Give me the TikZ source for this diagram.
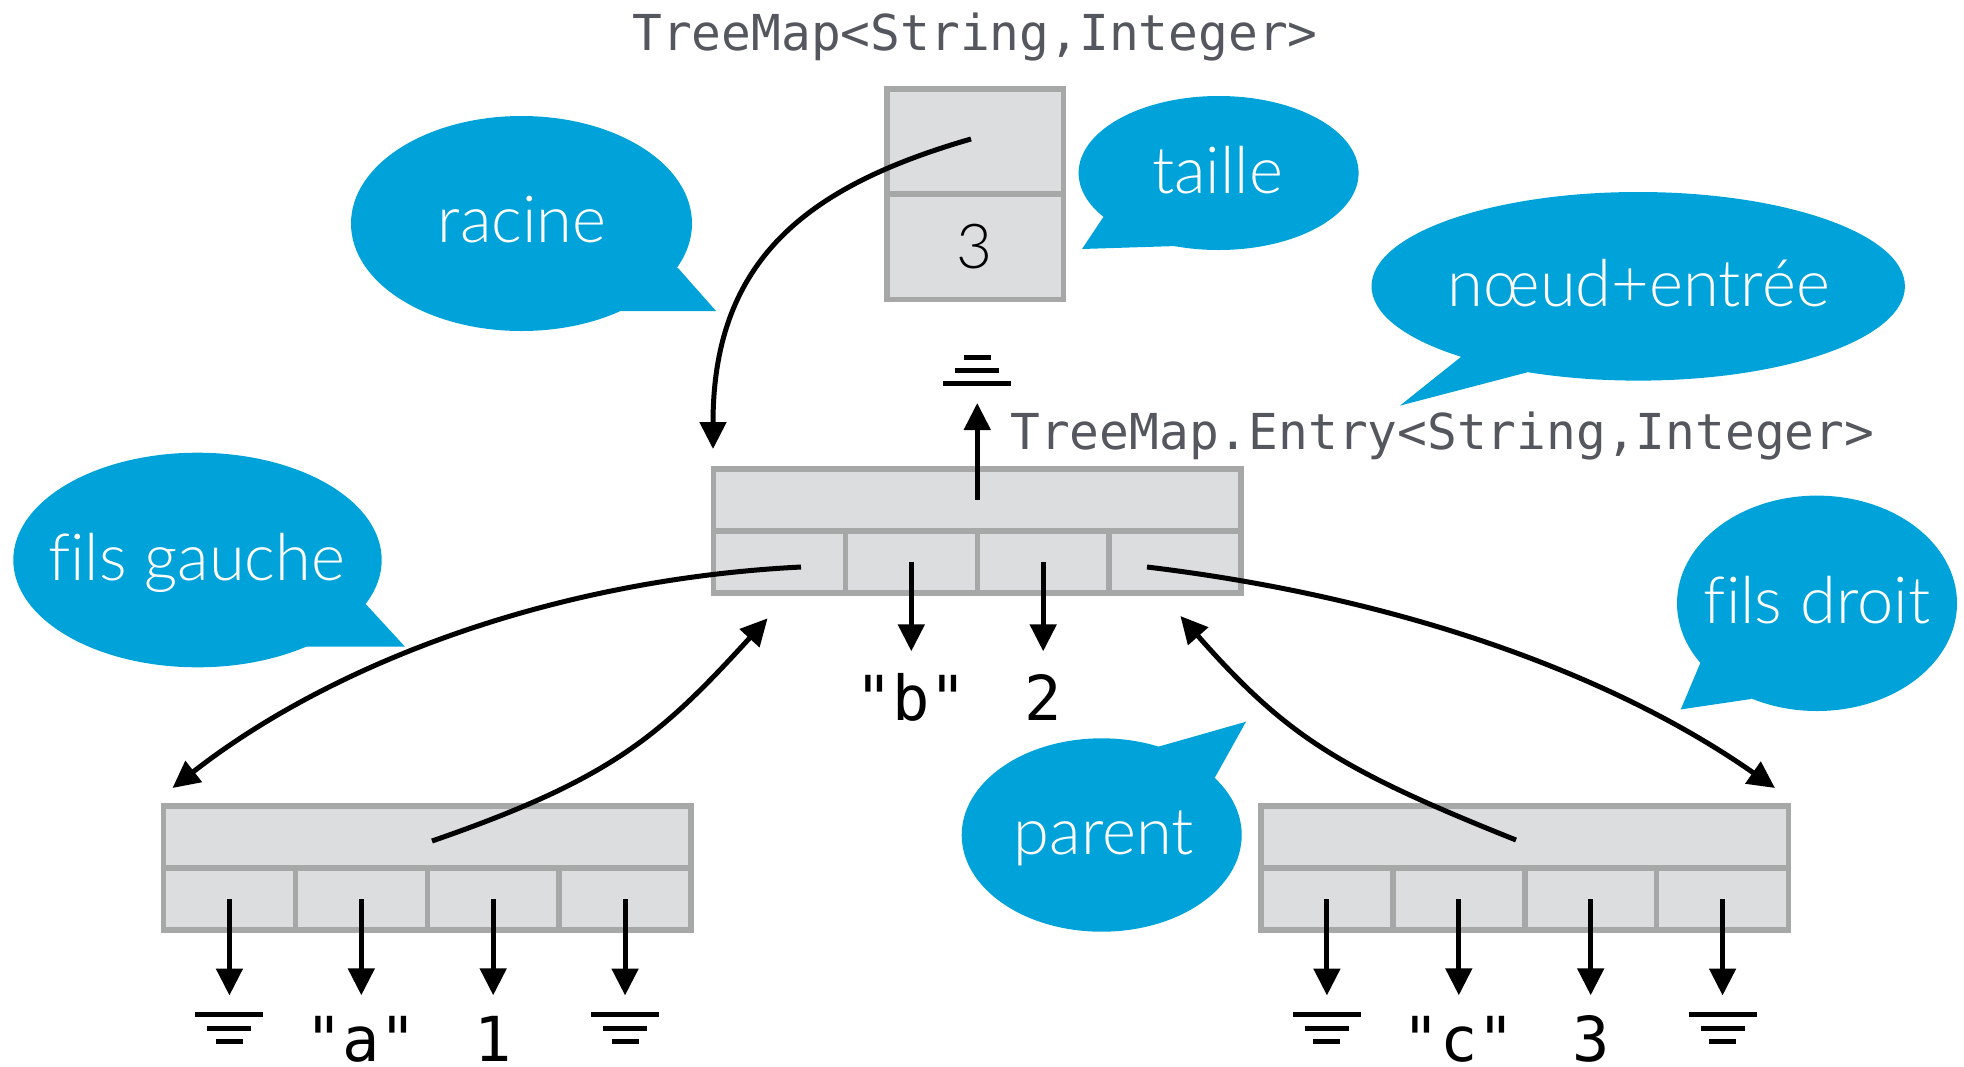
\documentclass[tikz,border=0pt]{standalone}
\usepackage{fontspec}
\usetikzlibrary{arrows.meta,calc}
\newfontfamily\codefont{DejaVu Sans Mono}
\IfFontExistsTF{Lato Light}
  {\newfontfamily\notefont{Lato Light}[Ligatures=NoCommon]}
  {\newfontfamily\notefont{Lato}[Ligatures=NoCommon]}
\definecolor{bubblecol}{RGB}{0,163,217}
\definecolor{cellfill}{RGB}{220,221,223}
\definecolor{cellline}{RGB}{165,168,167}
\definecolor{typegray}{RGB}{84,88,94}

\tikzset{
  recbox/.style={draw=cellline, fill=cellfill, line width=5.5pt,
    minimum width=527.5pt, minimum height=124pt, inner sep=0pt, outer sep=0pt},
  recline/.style={draw=cellline, line width=5.5pt},
  bubblefill/.style={fill=bubblecol},
  bubbletext/.style={anchor=base, inner sep=0pt, text=white,
    font=\notefont\fontsize{65pt}{65pt}\selectfont},
  boxnum/.style={anchor=base, inner sep=0pt, text=black,
    font=\notefont\fontsize{62pt}{62pt}\selectfont},
  typelabel/.style={inner sep=0pt, text=typegray,
    font=\codefont\fontsize{49.5pt}{50pt}\selectfont},
  valtext/.style={anchor=base, text=black,
    font=\codefont\fontsize{62pt}{62pt}\selectfont,
    text height=45pt, text depth=0pt, inner xsep=0pt, inner ysep=23.5pt},
  ptr/.style={draw=black, line width=5pt, -{Triangle[length=27pt,width=26pt]}},
  gline/.style={draw=black, line width=5pt},
}

% a record of four fields under a header row; defines NAME-1..NAME-4 and NAME-top
\newcommand\recordnode[3]{%
  \node[recbox] (#1) at (#2,#3) {};
  \draw[recline] (#1.west) -- (#1.east);
  \foreach \k in {1,2,3} {
    \draw[recline] ($(#1.west)!{\k/4}!(#1.east)$) -- ($(#1.south west)!{\k/4}!(#1.south east)$);
  }
  \foreach \k in {1,2,3,4} {
    \coordinate (#1-\k) at ($(#1.west)!{(2*\k-1)/8}!(#1.east) + (0,31)$);
  }
  \coordinate (#1-top) at ($(#1.center) + (0,-31)$);
}

% null reference mark; #2 = 1 below the arrow tip, -1 above it
\newcommand\nullmark[2]{%
  \draw[gline] ($(#1)+(-34,#2*19.2)$) -- ++(68,0);
  \draw[gline] ($(#1)+(-22,#2*33)$) -- ++(44,0);
  \draw[gline] ($(#1)+(-13.5,#2*45.5)$) -- ++(27,0);
}

\begin{document}
\begin{tikzpicture}[x=1pt, y=-1pt]
\useasboundingbox (0,0) rectangle (1964,1066);

% ---- speech bubbles ----
\fill[bubblefill] (521.5,223.5) ellipse [x radius=170.5pt, y radius=107.5pt];
\fill[bubblefill] (678,268) -- (716,311) -- (622,311) -- (521.5,223.5) -- cycle;
\node[bubbletext] (racine) at (522,242.7) {racine};

\fill[bubblefill] (1218.6,173) ellipse [x radius=140pt, y radius=77pt];
\fill[bubblefill] (1103.6,216.7) -- (1082,249) -- (1176.5,246) -- (1218.6,173) -- cycle;
\node[bubbletext] (taille) at (1217.5,193) {taille};

\fill[bubblefill] (1638.2,286.3) ellipse [x radius=266.7pt, y radius=94.3pt];
\fill[bubblefill] (1460.8,357) -- (1400,405.6) -- (1527,372.4) -- (1638.2,286.3) -- cycle;
\node[bubbletext] (noeud) at (1638.8,306.3) {nœud+entrée};

\fill[bubblefill] (1817,603.3) ellipse [x radius=140pt, y radius=107.7pt];
\fill[bubblefill] (1700.4,662.7) -- (1680.8,709.4) -- (1751,699) -- (1817,603.3) -- cycle;
\node[bubbletext] (filsdroit) at (1817,623) {fils droit};

\fill[bubblefill] (197.5,560) ellipse [x radius=184.2pt, y radius=107.3pt];
\fill[bubblefill] (365.7,604) -- (405,646.7) -- (304,646.7) -- (197.5,560) -- cycle;
\node[bubbletext] (filsgauche) at (196.7,580) {fils gauche};

\fill[bubblefill] (1101.7,835) ellipse [x radius=140pt, y radius=96.7pt];
\fill[bubblefill] (1158.3,746.7) -- (1246,721.7) -- (1215,777.3) -- (1101.7,835) -- cycle;
\node[bubbletext] (parent) at (1103.7,854.3) {parent};

% ---- type labels ----
\node[typelabel, anchor=base] (maptype) at (975,50) {TreeMap<String,Integer>};
\node[typelabel, anchor=base west] (entrytype) at (1010,449) {TreeMap.Entry<String,Integer>};

% ---- the map object ----
\node[recbox, minimum width=176.5pt, minimum height=210.5pt] (map) at (975,194) {};
\draw[recline] (map.west) -- (map.east);
\coordinate (map-root) at ($(map.center)+(-4,-55)$);
\node[boxnum] (size) at (974,268.3) {3};

% ---- entries ----
\recordnode{entry}{977.25}{531}
\recordnode{left}{427.25}{868}
\recordnode{right}{1524.75}{868}

% ---- link end points ----
\coordinate (entry-lc) at (801,567);
\coordinate (entry-rc) at (1147,567);
\coordinate (left-up) at (432,841);
\coordinate (right-up) at (1516,840);
\coordinate (rootTip) at (713,449);
\coordinate (leftTip) at (172.5,788);
\coordinate (rightTip) at (1775,788);
\coordinate (lpTip) at (767.6,618.3);
\coordinate (rpTip) at (1180.4,616);
\coordinate (entryNull) at (977.25,403);

% ---- links ----
\draw[ptr] (map-root) .. controls +(-163,47) and +(0,-190) .. (rootTip);
\draw[ptr] (entry-lc) .. controls +(-250,12.5) and +(157.6,-123.2) .. (leftTip);
\draw[ptr] (entry-rc) .. controls +(250,30) and +(-164,-115) .. (rightTip);
\draw[ptr] (left-up) .. controls +(179.6,-62.1) and +(-107.8,118.2) .. (lpTip);
\draw[ptr] (right-up) .. controls +(-176.5,-70.5) and +(105.6,120) .. (rpTip);

% parent of the root is null
\draw[ptr] (entry-top) -- (entryNull);
\nullmark{entryNull}{-1}

% key and value of the root entry
\node[valtext] (bval) at (entry-2 |- 0,720) {"b"};
\node[valtext] (twoval) at (entry-3 |- 0,720) {2};
\draw[ptr] (entry-2) -- (entry-2 |- bval.north);
\draw[ptr] (entry-3) -- (entry-3 |- twoval.north);

% left child
\coordinate (leftNullA) at (left-1 |- 0,995.5);
\coordinate (leftNullB) at (left-4 |- 0,995.5);
\node[valtext, inner ysep=21pt] (aval) at (left-2 |- 0,1061.5) {"a"};
\node[valtext, inner ysep=21pt] (oneval) at (left-3 |- 0,1061.5) {1};
\draw[ptr] (left-1) -- (leftNullA);
\draw[ptr] (left-2) -- (left-2 |- aval.north);
\draw[ptr] (left-3) -- (left-3 |- oneval.north);
\draw[ptr] (left-4) -- (leftNullB);
\nullmark{leftNullA}{1}
\nullmark{leftNullB}{1}

% right child
\coordinate (rightNullA) at (right-1 |- 0,995.5);
\coordinate (rightNullB) at (right-4 |- 0,995.5);
\node[valtext, inner ysep=21pt] (cval) at (right-2 |- 0,1061.5) {"c"};
\node[valtext, inner ysep=21pt] (threeval) at (right-3 |- 0,1061.5) {3};
\draw[ptr] (right-1) -- (rightNullA);
\draw[ptr] (right-2) -- (right-2 |- cval.north);
\draw[ptr] (right-3) -- (right-3 |- threeval.north);
\draw[ptr] (right-4) -- (rightNullB);
\nullmark{rightNullA}{1}
\nullmark{rightNullB}{1}
\end{tikzpicture}
\end{document}
